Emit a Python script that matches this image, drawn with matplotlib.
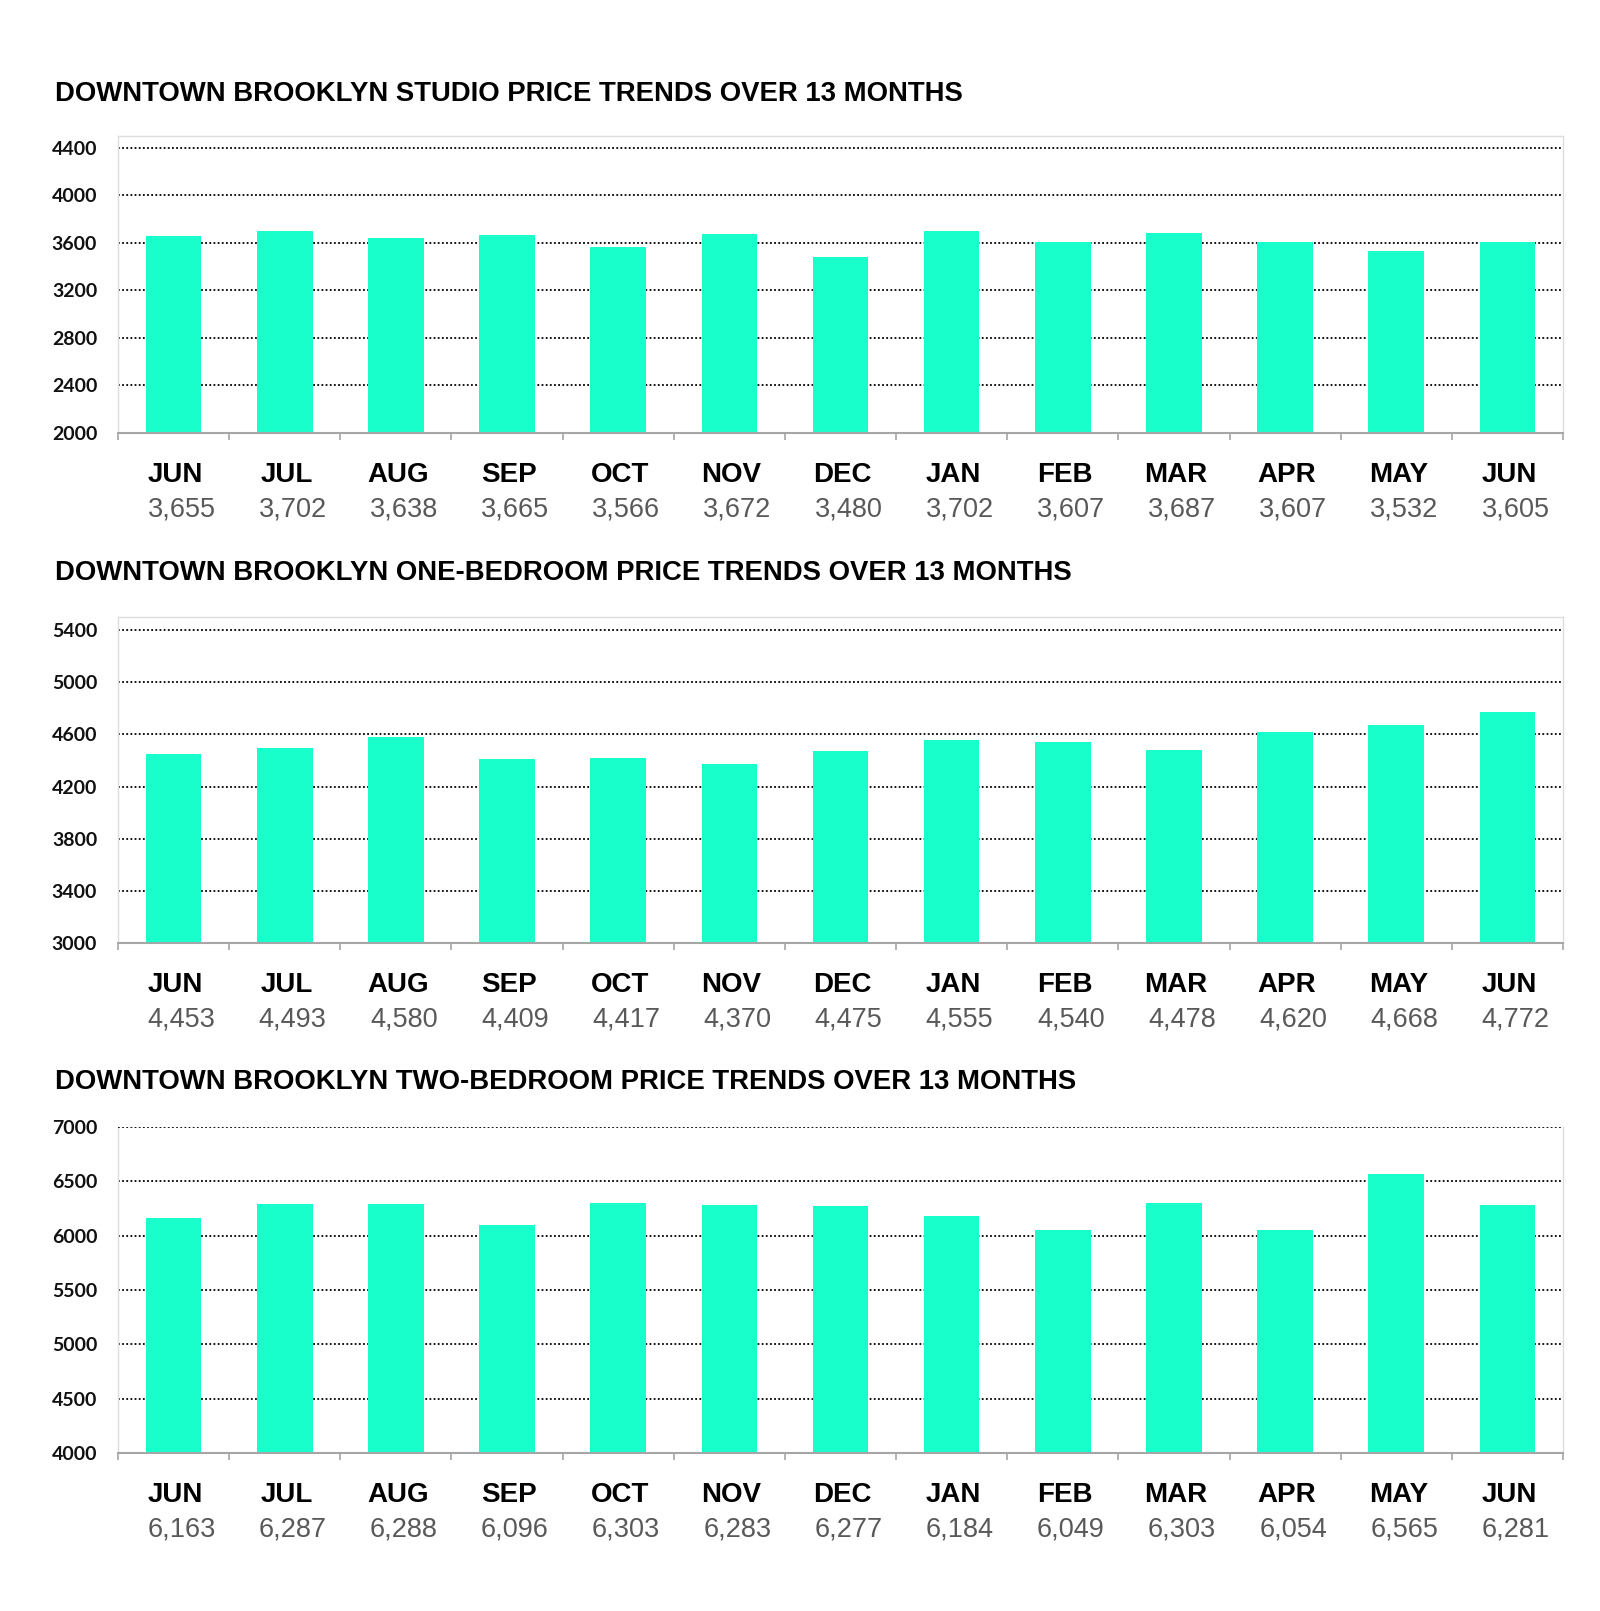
import matplotlib.pyplot as plt
import numpy as np

months = ['JUN', 'JUL', 'AUG', 'SEP', 'OCT', 'NOV', 'DEC',
          'JAN', 'FEB', 'MAR', 'APR', 'MAY', 'JUN']

studio = [3655, 3702, 3638, 3665, 3566, 3672, 3480, 3702, 3607, 3687, 3607, 3532, 3605]
one_bed = [4453, 4493, 4580, 4409, 4417, 4370, 4475, 4555, 4540, 4478, 4620, 4668, 4772]
two_bed = [6163, 6287, 6288, 6096, 6303, 6283, 6277, 6184, 6049, 6303, 6054, 6565, 6281]

titles = ['DOWNTOWN BROOKLYN STUDIO PRICE TRENDS OVER 13 MONTHS',
          'DOWNTOWN BROOKLYN ONE-BEDROOM PRICE TRENDS OVER 13 MONTHS',
          'DOWNTOWN BROOKLYN TWO-BEDROOM PRICE TRENDS OVER 13 MONTHS']

BAR = '#19ffcc'
W, H = 1600, 1611

fig = plt.figure(figsize=(W / 100, H / 100), dpi=100)
fig.patch.set_facecolor('white')

# (top px, bottom px, ylim, tick step, title y px)
panels = [
    (136, 433, (2000, 4500), 400, 94, studio),
    (617, 943, (3000, 5500), 400, 573, one_bed),
    (1127, 1453, (4000, 7000), 500, 1082, two_bed),
]

left_px, right_px = 118, 1563

for (top, bot, ylim, step, ty, vals), title in zip(panels, titles):
    ax = fig.add_axes([left_px / W, 1 - bot / H, (right_px - left_px) / W, (bot - top) / H])
    x = np.arange(len(vals))
    ax.bar(x, vals, width=0.5, color=BAR, zorder=2)
    ax.set_xlim(-0.5, len(vals) - 0.5)
    ax.set_ylim(*ylim)
    ticks = np.arange(ylim[0], ylim[1] + 1, step)
    ticks = ticks[ticks <= ylim[1]]
    ax.set_yticks(ticks)
    ax.set_yticklabels([str(t) for t in ticks], fontfamily='Lato', fontweight='bold',
                       fontsize=14, color='#111111')
    ax.tick_params(axis='y', length=0, pad=15)
    for t in ticks[1:]:
        ax.axhline(t, color='#000000', linestyle=(0, (1, 1.3)), linewidth=1.3,
                   zorder=3 if t == ylim[1] else 1)

    ax.set_xticks([])
    ax.set_xticks(np.arange(-0.5, len(vals), 1.0), minor=True)
    ax.tick_params(axis='x', which='minor', length=5, width=1.2, color='#a6a6a6',
                   direction='out')
    ax.tick_params(axis='x', which='major', length=0)

    for side in ['top', 'right', 'left']:
        ax.spines[side].set_color('#dddddd')
        ax.spines[side].set_linewidth(1)
    if ticks[-1] == ylim[1]:
        ax.spines['top'].set_visible(False)
    ax.spines['bottom'].set_color('#a6a6a6')
    ax.spines['bottom'].set_linewidth(1.5)

    for i, (m, v) in enumerate(zip(months, vals)):
        ax.annotate(m, xy=(i, 0), xycoords=('data', 'axes fraction'),
                    xytext=(2, -42), textcoords='offset pixels', ha='center', va='center',
                    fontfamily='Liberation Sans', fontweight='bold', fontsize=20,
                    color='#000000')
        ax.annotate(f'{v:,}', xy=(i, 0), xycoords=('data', 'axes fraction'),
                    xytext=(8, -77), textcoords='offset pixels', ha='center', va='center',
                    fontfamily='Liberation Sans', fontsize=19.5, color='#595959')

    fig.text(55 / W, 1 - ty / H, title, ha='left', va='center',
             fontfamily='Liberation Sans', fontweight='bold', fontsize=19.8, color='#000000')

fig.savefig('out.png', dpi=100, facecolor='white')
